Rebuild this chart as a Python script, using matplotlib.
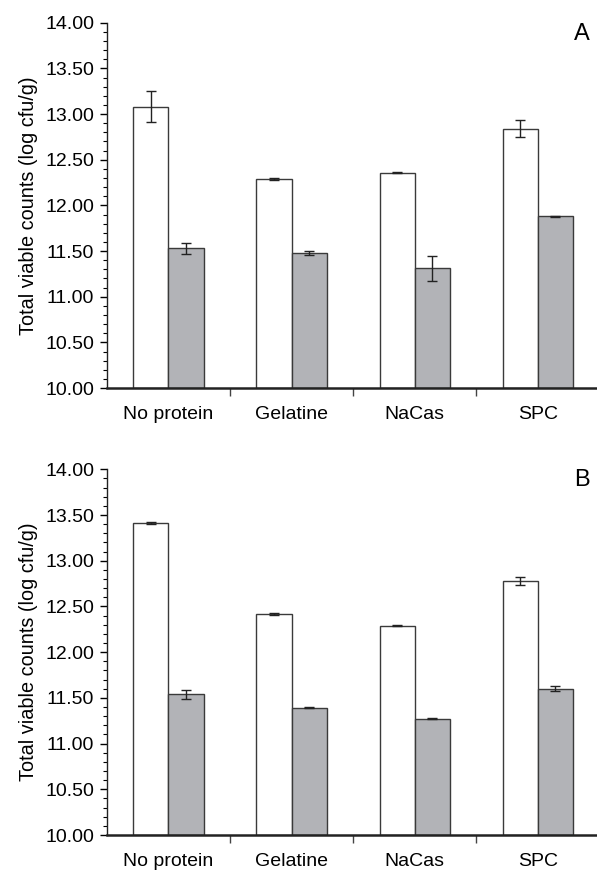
import numpy as np
import matplotlib
matplotlib.use("Agg")
from matplotlib import pyplot as plt
from matplotlib.ticker import MultipleLocator, FormatStrFormatter

plt.rcParams["font.family"] = ["Liberation Sans", "DejaVu Sans"]

categories = ["No protein", "Gelatine", "NaCas", "SPC"]

# panel A
a_white = [13.08, 12.29, 12.36, 12.84]
a_white_err = [0.17, 0.01, 0.01, 0.09]
a_grey = [11.53, 11.48, 11.31, 11.88]
a_grey_err = [0.06, 0.02, 0.14, 0.005]

# panel B
b_white = [13.41, 12.42, 12.29, 12.78]
b_white_err = [0.01, 0.01, 0.005, 0.04]
b_grey = [11.54, 11.39, 11.27, 11.60]
b_grey_err = [0.05, 0.005, 0.005, 0.03]

panels = [
	("A", a_white, a_white_err, a_grey, a_grey_err),
	("B", b_white, b_white_err, b_grey, b_grey_err),
]

fig = plt.figure(figsize=(5.97, 8.74), dpi=100)
rects = [[0.179, 0.556, 0.821, 0.418], [0.179, 0.0446, 0.821, 0.4184]]

edge = "#3a3a3a"
width = 0.285
x = np.arange(len(categories))

for rect, (tag, white, werr, grey, gerr) in zip(rects, panels):
	ax = fig.add_axes(rect)
	err_kw = dict(ecolor="#222222", elinewidth=1.0, capsize=3.5, capthick=1.0)
	ax.bar(x - width / 2, np.array(white) - 10, width, bottom=10,
		color="white", edgecolor=edge, linewidth=1.0, yerr=werr, error_kw=err_kw)
	ax.bar(x + width / 2, np.array(grey) - 10, width, bottom=10,
		color="#b2b3b7", edgecolor=edge, linewidth=1.0, yerr=gerr, error_kw=err_kw)

	ax.set_ylim(10, 14)
	ax.set_xlim(-0.5, 3.48)
	ax.yaxis.set_major_locator(MultipleLocator(0.5))
	ax.yaxis.set_minor_locator(MultipleLocator(0.1))
	ax.yaxis.set_major_formatter(FormatStrFormatter("%.2f"))
	ax.tick_params(axis="y", which="major", length=5, width=1, labelsize=14, pad=4)
	ax.tick_params(axis="y", which="minor", length=3, width=0.8)

	ax.set_xticks([0.5, 1.5, 2.5])
	ax.set_xticklabels([])
	ax.set_xticks(x, minor=True)
	ax.set_xticklabels(categories, minor=True, fontsize=14)
	ax.tick_params(axis="x", which="major", length=6, width=1, color="#444444")
	ax.tick_params(axis="x", which="minor", length=0, pad=13)

	for side in ("top", "right"):
		ax.spines[side].set_visible(False)
	ax.spines["left"].set_linewidth(1.0)
	ax.spines["bottom"].set_linewidth(1.8)
	ax.spines["left"].set_color("#222222")
	ax.spines["bottom"].set_color("#222222")
	ax.set_ylabel("Total viable counts (log cfu/g)", fontsize=14.3, labelpad=5)

	ax.text(0.985, 0.97, tag, transform=ax.transAxes, fontsize=17,
		ha="right", va="center")

fig.savefig("out.png", dpi=100)
